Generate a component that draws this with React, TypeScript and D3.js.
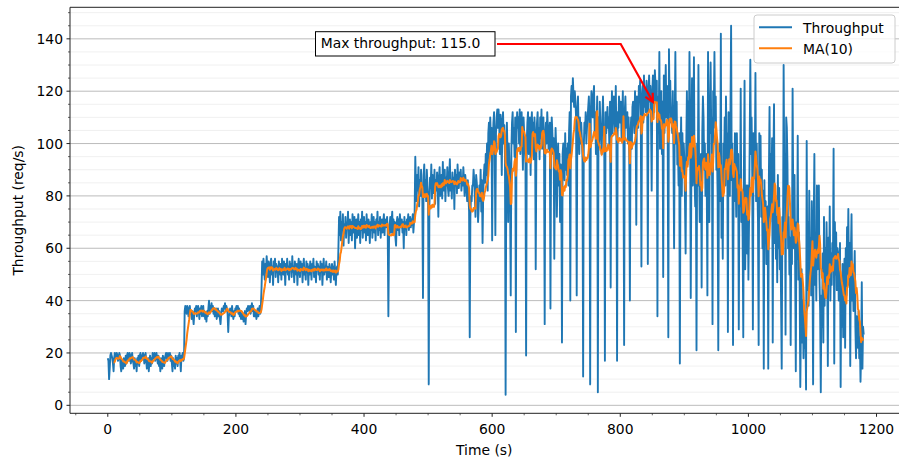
import React from 'react';
import * as d3 from 'd3';

// Throughput samples (req/s), one per second
const phase1 = [
  18,17,10,14,19,20,19,18,16,13, 18,20,19,18,20,19,17,18,20,19,
  15,13,17,16,14,18,17,15,19,16, 19,20,18,17,20,19,16,18,20,17,
  16,14,18,15,17,13,18,16,19,15, 19,20,17,19,18,20,19,16,18,20,
  17,14,16,18,13,17,19,15,18,16, 20,19,18,20,17,19,20,18,16,19,
  15,17,13,18,16,14,19,17,15,18, 19,20,18,17,20,19,18,20,17,19,
  16,13,18,15,17,14,19,16,18,15, 19,18,20,17,13,19,18,20,17,18,
];
const phase2 = [
  36,38,37,35,38,36,34,37,38,35, 36,33,36,34,31,35,37,36,38,34,
  37,38,36,33,37,35,38,34,36,38, 34,36,33,35,32,36,34,37,40,35,
  38,37,39,36,38,35,37,34,36,37, 33,35,37,34,36,33,31,35,37,36,
  36,38,37,39,36,38,37,35,28,34, 35,37,36,34,38,35,33,36,34,37,
  37,38,36,38,35,37,34,36,33,35, 33,35,32,34,36,31,35,37,36,38,
  37,36,38,35,37,39,36,38,34,36, 34,36,33,35,37,34,36,38,35,38,
];
const phase3 = [
  45,55,50,56,52,48,54,51,57,53, 49,55,52,47,54,56,50,53,46,55,
  52,56,49,54,51,53,47,55,52,50, 54,48,56,52,50,55,53,46,54,51,
  56,50,53,48,55,52,54,49,57,51, 53,47,55,52,50,54,46,53,56,51,
  49,55,52,54,47,53,56,50,52,48, 55,51,54,46,53,50,55,52,48,54,
  52,56,49,53,51,47,55,52,54,50, 53,48,55,51,54,46,52,56,50,53,
  51,55,48,53,52,49,54,51,47,52, 54,50,53,48,55,51,46,52,53,50,
];
const phase4 = [
  60,72,65,74,63,70,67,73,61,69, 66,72,64,70,68,74,62,69,71,65,
  70,63,73,68,66,72,60,69,71,64, 68,73,65,70,62,71,67,74,64,69,
  72,66,70,63,73,68,65,71,69,62, 70,67,73,64,69,72,66,70,63,71,
  68,74,65,70,67,72,64,69,71,66, 70,73,65,71,68,69,72,66,34,63,
  69,72,66,70,74,65,71,68,70,64, 61,70,72,67,71,65,73,69,68,71,
  66,70,60,72,68,70,65,71,69,73, 67,70,72,68,71,69,73,66,70,74,
];
const phase5 = [
  95,84,78,88,82,91,76,86,80,90, 83,79,41,88,92,81,86,78,90,84,
  80,8,75,87,83,92,79,88,85,81, 90,77,86,82,89,84,72,87,91,80,
  85,88,79,93,82,86,90,78,87,84, 91,83,80,88,94,82,86,79,89,85,
  87,75,90,84,88,81,92,86,83,89, 85,90,82,87,84,91,86,80,88,85,
  82,78,86,80,74,26,72,80,78,84, 84,90,86,79,72,88,85,81,70,76,
  84,78,90,74,86,62,80,88,92,85, 96,88,100,82,104,108,96,110,102,106,
];
const phase6 = [
  63,100,108,112,98,65,104,110,113,106, 113,108,96,111,104,88,109,112,100,107,
  95,4,84,108,96,70,100,92,78,42, 98,108,112,100,106,95,110,28,104,112,
  106,110,100,113,96,108,112,102,90,110, 104,98,92,19,100,108,112,96,104,110,
  88,106,112,100,108,94,110,104,52,96, 108,112,100,106,94,110,102,113,98,104,
  110,96,31,104,108,100,112,106,98,102, 108,37,100,110,104,96,102,56,92,106,
  98,72,88,100,84,96,70,92,80,24, 96,100,92,86,104,90,98,88,100,84,
  104,112,40,118,122,116,125,118,114,120, 116,110,42,112,118,104,96,110,100,108,
  102,94,11,98,108,104,112,100,106,110, 114,118,106,8,112,120,116,110,118,122,
  104,112,96,108,118,5,110,100,116,106, 102,96,110,118,106,100,17,112,104,108,
  114,106,110,98,116,45,108,120,104,112, 118,110,104,122,100,17,112,106,118,114,
  108,116,102,110,120,98,23,112,118,106, 108,112,100,110,96,40,104,110,98,114,
  116,110,104,120,108,69,118,112,106,122, 116,124,110,53,118,122,108,126,114,120,
  112,124,118,54,120,126,116,122,110,82, 120,126,118,112,128,122,116,124,34,118,
  104,135,98,112,120,96,116,49,126,104, 118,130,110,122,106,26,136,116,124,108,
  112,104,120,96,60,108,135,100,116,92, 100,84,104,16,92,110,80,104,88,100,
];
const phase7 = [
  94,78,58,98,120,92,116,96,135,112, 41,90,125,84,98,133,86,76,94,21,
  100,84,130,92,70,88,96,45,104,118, 110,90,100,80,96,84,42,135,72,70,
  114,131,104,110,31,120,112,135,106,118, 90,96,80,21,86,100,78,142,64,76,
  56,100,92,110,84,118,96,104,28,112, 96,80,112,145,86,100,23,90,78,104,
  90,72,104,84,96,29,88,76,121,70, 82,64,26,90,124,52,78,84,58,84,
  48,70,100,132,96,110,88,29,104,92, 92,127,78,100,84,70,23,104,82,103,
  72,90,60,82,14,86,62,78,54,70, 76,14,88,114,70,96,84,102,24,92,
  115,62,80,56,72,47,88,60,83,52, 64,40,14,72,58,130,88,96,27,110,
  106,92,60,72,50,64,23,68,54,121, 78,60,88,52,13,70,56,103,48,66,
  46,7,30,52,24,40,18,36,22,30, 6,101,44,70,38,82,50,64,42,78,
  58,8,70,96,46,62,40,84,52,66, 84,48,36,5,42,30,58,24,72,38,
  60,44,70,52,15,64,48,76,40,58, 46,62,54,98,16,70,50,66,44,60,
  58,40,52,62,7,48,30,54,26,44, 56,22,60,42,68,50,75,46,62,15,
  58,73,40,52,36,48,59,30,18,34, 28,22,36,18,26,9,20,47,14,30,27,
];

const throughput: number[] = [...phase1, ...phase2, ...phase3, ...phase4, ...phase5, ...phase6, ...phase7];
const times: number[] = throughput.map((_, i) => i);
const MA_WINDOW = 10;
const movingAvg: (number | null)[] = throughput.map((_, i) =>
  i < MA_WINDOW - 1 ? null : (d3.mean(throughput.slice(i - MA_WINDOW + 1, i + 1)) as number)
);

const xTickValues = [0, 200, 400, 600, 800, 1000, 1200];
const yTickValues = [0, 20, 40, 60, 80, 100, 120, 140];
const seriesLabels = ['Throughput', 'MA(10)'];
const seriesColors = ['#1f77b4', '#ff7f0e'];
const annotationPoint = { t: 853, v: 115 };
const annotationText = 'Max throughput: 115.0';

const W = 899;
const H = 459;
const left = 70;
const top = 7.3;
const bottom = 413.3;
const right = 901.5;
const FONT = "'DejaVu Sans', sans-serif";
const FS = 13.9;

export default function App() {
  const [t0, t1] = d3.extent(times) as [number, number];
  const tPad = (t1 - t0) * 0.05;
  const x = d3.scaleLinear().domain([t0 - tPad, t1 + tPad]).range([left, right]);
  const [v0, v1] = d3.extent(throughput) as [number, number];
  const vPad = (v1 - v0) * 0.05;
  const y = d3.scaleLinear().domain([v0 - vPad, v1 + vPad]).range([bottom, top]);

  const rawLine = d3
    .line<number>()
    .x((_, i) => x(times[i]))
    .y((d) => y(d))(throughput) as string;
  const maLine = d3
    .line<number | null>()
    .defined((d) => d != null)
    .x((_, i) => x(times[i]))
    .y((d) => y(d as number))(movingAvg) as string;

  const yMinor = d3.range(0, 155, 5).filter((v) => v % 20 !== 0);
  const xMinor = d3.range(-50, 1240, 50).filter((v) => v % 200 !== 0 && x(v) <= W);

  // annotation arrow
  const boxRight = 497;
  const arrowY = 44;
  const cornerX = 620.7;
  const tx = x(annotationPoint.t);
  const ty = y(annotationPoint.v);
  const dx = tx - cornerX;
  const dy = ty - arrowY;
  const len = Math.hypot(dx, dy);
  const ux = dx / len;
  const uy = dy / len;
  const tipX = tx - ux * 2.8;
  const tipY = ty - uy * 2.8;
  const headLen = 9;
  const ang = (28 * Math.PI) / 180;
  const rot = (a: number) => [
    tipX - headLen * (ux * Math.cos(a) - uy * Math.sin(a)),
    tipY - headLen * (ux * Math.sin(a) + uy * Math.cos(a)),
  ];
  const h1 = rot(ang);
  const h2 = rot(-ang);

  return (
    <svg
      width={W}
      height={H}
      style={{ position: 'absolute', left: 0, top: 0, background: '#fff' }}
      fontFamily={FONT}
    >
      <defs>
        <clipPath id="plotClip">
          <rect x={left} y={top} width={right - left} height={bottom - top} />
        </clipPath>
      </defs>
      <rect x={0} y={0} width={W} height={H} fill="#fff" />
      {/* grid */}
      {yMinor.map((v) => (
        <line key={'gm' + v} x1={left} x2={right} y1={y(v)} y2={y(v)} stroke="#ececec" strokeWidth={0.8} />
      ))}
      {yTickValues.map((v) => (
        <line key={'gM' + v} x1={left} x2={right} y1={y(v)} y2={y(v)} stroke="#b3b3b3" strokeWidth={0.9} />
      ))}
      {/* data */}
      <g clipPath="url(#plotClip)">
        <path d={rawLine} fill="none" stroke={seriesColors[0]} strokeWidth={1.9} strokeLinejoin="round" />
        <path d={maLine} fill="none" stroke={seriesColors[1]} strokeWidth={2} strokeLinejoin="round" />
      </g>
      {/* spines */}
      <line x1={left} x2={left} y1={top} y2={bottom} stroke="#222" strokeWidth={1} />
      <line x1={left} x2={right} y1={bottom} y2={bottom} stroke="#222" strokeWidth={1} />
      <line x1={left} x2={right} y1={top} y2={top} stroke="#222" strokeWidth={1} />
      {/* y ticks */}
      {yTickValues.map((v) => (
        <g key={'yt' + v}>
          <line x1={left - 3.5} x2={left} y1={y(v)} y2={y(v)} stroke="#222" strokeWidth={1} />
          <text x={left - 7} y={y(v) + 5} textAnchor="end" fontSize={FS} fill="#000">
            {v}
          </text>
        </g>
      ))}
      {yMinor.map((v) => (
        <line key={'ym' + v} x1={left - 2} x2={left} y1={y(v)} y2={y(v)} stroke="#222" strokeWidth={0.7} />
      ))}
      {/* x ticks */}
      {xTickValues.map((v) => (
        <g key={'xt' + v}>
          <line x1={x(v)} x2={x(v)} y1={bottom} y2={bottom + 3.5} stroke="#222" strokeWidth={1} />
          <text x={x(v)} y={434} textAnchor="middle" fontSize={FS} fill="#000">
            {v}
          </text>
        </g>
      ))}
      {xMinor.map((v) => (
        <line key={'xm' + v} x1={x(v)} x2={x(v)} y1={bottom} y2={bottom + 2} stroke="#222" strokeWidth={0.7} />
      ))}
      {/* axis labels */}
      <text x={(left + right) / 2 - 1.5} y={455} textAnchor="middle" fontSize={FS} fill="#000">
        Time (s)
      </text>
      <text
        transform={`translate(22.5, ${(top + bottom) / 2}) rotate(-90)`}
        textAnchor="middle"
        fontSize={FS}
        fill="#000"
      >
        Throughput (req/s)
      </text>
      {/* legend */}
      <rect x={754} y={15} width={141} height={48} rx={3} fill="#fff" fillOpacity={0.8} stroke="#cccccc" strokeWidth={1} />
      {seriesLabels.map((lab, i) => (
        <g key={lab}>
          <line x1={759} x2={792} y1={27.3 + i * 21} y2={27.3 + i * 21} stroke={seriesColors[i]} strokeWidth={2} />
          <text x={803} y={32.5 + i * 21} fontSize={FS} fill="#000">
            {lab}
          </text>
        </g>
      ))}
      {/* annotation */}
      <path
        d={`M${boxRight},${arrowY}H${cornerX}L${tipX},${tipY}`}
        fill="none"
        stroke="#ff0000"
        strokeWidth={2.2}
        strokeLinejoin="miter"
      />
      <path
        d={`M${h1[0]},${h1[1]}L${tipX},${tipY}L${h2[0]},${h2[1]}`}
        fill="none"
        stroke="#ff0000"
        strokeWidth={2.2}
      />
      <rect x={315.5} y={31.7} width={179.5} height={24.3} fill="#fff" stroke="#000" strokeWidth={1} />
      <text x={320.7} y={48.3} fontSize={FS} fill="#000">
        {annotationText}
      </text>
    </svg>
  );
}
